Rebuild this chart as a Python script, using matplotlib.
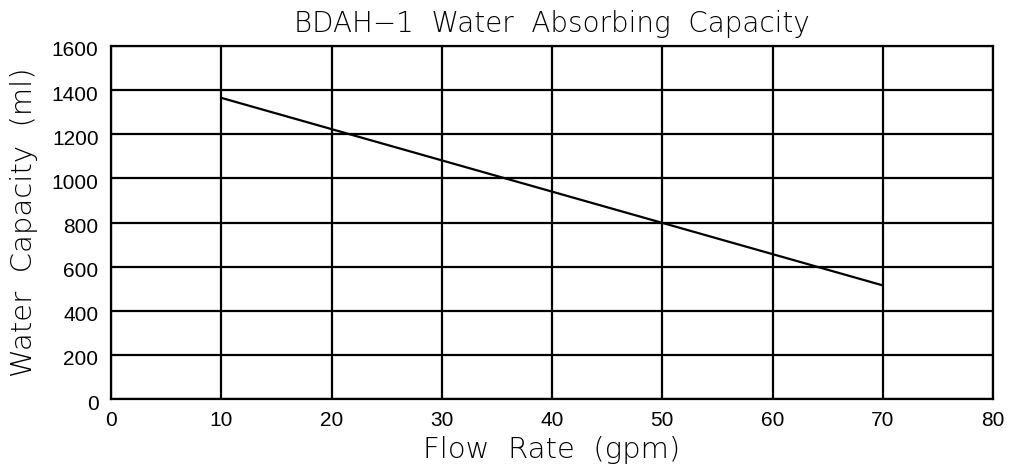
import matplotlib
matplotlib.use("Agg")
import matplotlib.pyplot as plt
import matplotlib.transforms as mtransforms

flow_rate = [10, 70]
water_capacity = [1365, 515]
x_ticks = [0, 10, 20, 30, 40, 50, 60, 70, 80]
y_ticks = [0, 200, 400, 600, 800, 1000, 1200, 1400, 1600]

fig = plt.figure(figsize=(10.10, 4.72), dpi=100)
ax = fig.add_axes([111/1010, 1 - 399/472, 882/1010, 353/472])

ax.plot(flow_rate, water_capacity, color="black", linewidth=1.6)
ax.set_xlim(0, 80)
ax.set_ylim(0, 1600)
ax.set_xticks(x_ticks)
ax.set_yticks(y_ticks)
ax.grid(True, color="black", linewidth=1.6)
ax.set_axisbelow(True)
for s in ax.spines.values():
    s.set_linewidth(1.6)
    s.set_color("black")
ax.tick_params(length=0, labelsize=15, colors="black")
ax.tick_params(axis="x", pad=9)
ax.tick_params(axis="y", pad=9)
shift = mtransforms.ScaledTranslation(0, -3/100, fig.dpi_scale_trans)
for lab in ax.get_xticklabels() + ax.get_yticklabels():
    lab.set_family("Liberation Sans")
for lab in ax.get_yticklabels():
    lab.set_transform(lab.get_transform() + shift)

thin = dict(family="DejaVu Sans", fontweight=200, color="black")
ax.set_title("BDAH−1  Water  Absorbing  Capacity", fontsize=20, pad=10, **thin)
ax.set_xlabel("Flow  Rate  (gpm)", fontsize=21, labelpad=4, **thin)
ax.set_ylabel("Water  Capacity  (ml)", fontsize=21, labelpad=10, **thin)

fig.savefig("out.png", dpi=100)
